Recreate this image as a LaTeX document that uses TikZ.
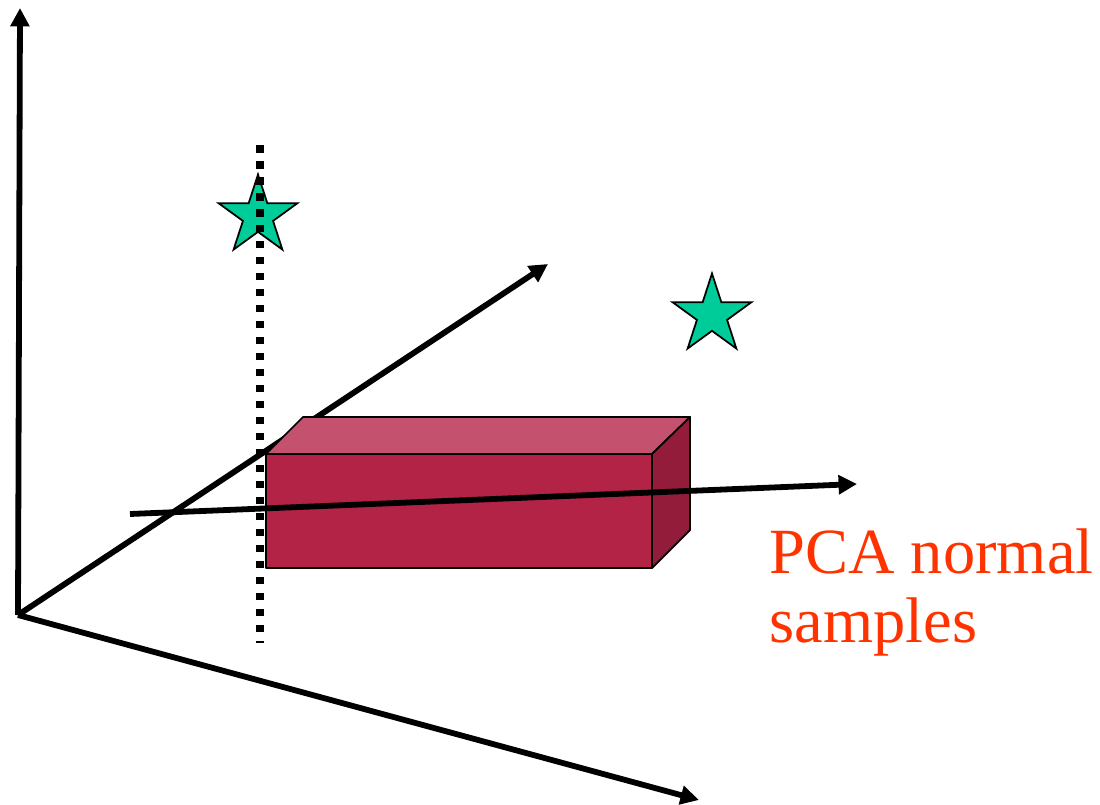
\documentclass[tikz,border=0pt]{standalone}
\usepackage{fontspec}
\setmainfont{Liberation Serif}
\usetikzlibrary{arrows.meta,shapes.geometric}
\definecolor{boxfront}{HTML}{B32346}
\definecolor{boxtop}{HTML}{C4516D}
\definecolor{boxside}{HTML}{931C3A}
\definecolor{stargreen}{HTML}{00CC99}
\definecolor{labelred}{HTML}{FF3300}
\tikzset{
  axis/.style={line width=3.3pt,-{Triangle[length=10.5pt,width=10.5pt]}},
  dotline/.style={line width=4.3pt,dash pattern=on 4.3pt off 4.8pt},
  starshape/.style={star,star points=5,star point ratio=2.618,draw=black,line width=1pt,fill=stargreen,inner sep=0pt,minimum size=1.66cm},
  face/.style={draw=black,line width=1pt,line join=round},
  lbl/.style={anchor=base west,text=labelred,font=\fontsize{36.7}{40}\selectfont,inner sep=0pt},
}
\begin{document}
\begin{tikzpicture}[x=0.02cm,y=-0.02cm]
\useasboundingbox (0,0) rectangle (1100,805);
\coordinate (O) at (18,615);
\coordinate (up) at (20,8);
\coordinate (diag) at (548,264);
\coordinate (low) at (699,800);
\coordinate (hstart) at (130,514);
\coordinate (hend) at (857,484);
\coordinate (dtop) at (260,145);
\coordinate (dbot) at (260,643);
% box corners
\coordinate (f1) at (266,454);
\coordinate (f2) at (652,454);
\coordinate (f3) at (652,568);
\coordinate (f4) at (266,568);
\coordinate (b1) at (303,417);
\coordinate (b2) at (690,417);
\coordinate (b3) at (690,530);
% axes
\draw[axis] (O) -- (up);
\draw[axis] (O) -- (low);
\draw[axis] (O) -- (diag);
% box
\filldraw[face,fill=boxfront] (f1) -- (f2) -- (f3) -- (f4) -- cycle;
\filldraw[face,fill=boxtop] (f1) -- (b1) -- (b2) -- (f2) -- cycle;
\filldraw[face,fill=boxside] (f2) -- (b2) -- (b3) -- (f3) -- cycle;
% stars
\node[starshape] (s1) at (258,216) {};
\node[starshape] (s2) at (712,315) {};
% dotted line
\draw[dotline] (dtop) -- (dbot);
% horizontal line
\draw[axis] (hstart) -- (hend);
% label
\node[lbl] (lbl1) at (769,573) {PCA normal};
\node[lbl] (lbl2) at (769,642) {samples};
\end{tikzpicture}
\end{document}
